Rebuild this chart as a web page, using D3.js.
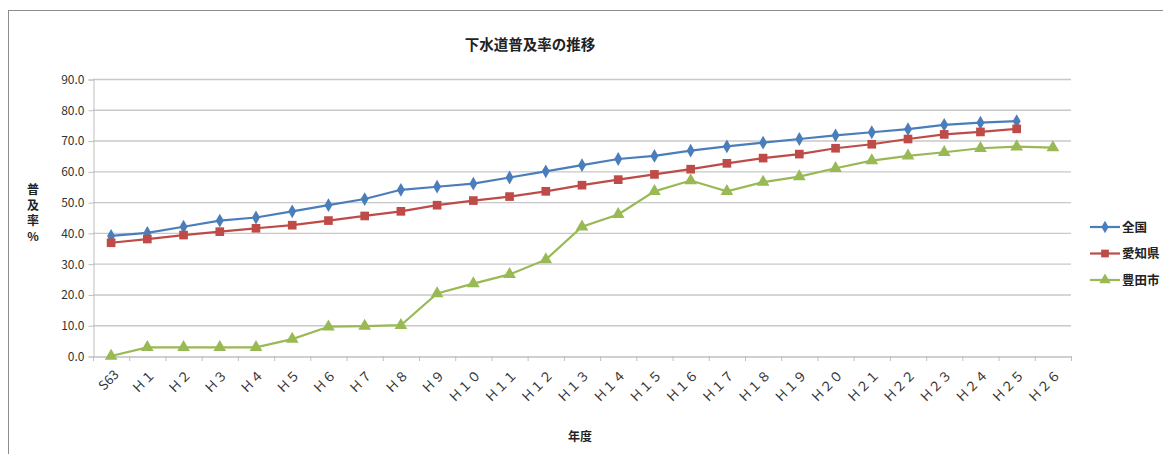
<!DOCTYPE html>
<html><head><meta charset="utf-8">
<script src="https://cdn.jsdelivr.net/npm/d3@7"></script>
<style>body{margin:0;background:#fff}svg{display:block}</style>
</head><body>
<script>
const categories = ["S63","Ｈ１","Ｈ２","Ｈ３","Ｈ４","Ｈ５","Ｈ６","Ｈ７","Ｈ８","Ｈ９","Ｈ１０","Ｈ１１","Ｈ１２","Ｈ１３","Ｈ１４","Ｈ１５","Ｈ１６","Ｈ１７","Ｈ１８","Ｈ１９","Ｈ２０","Ｈ２１","Ｈ２２","Ｈ２３","Ｈ２４","Ｈ２５","Ｈ２６"];
const zenkoku = [39.0,40.0,42.0,44.0,45.0,47.0,49.0,51.0,54.0,55.0,56.0,58.0,60.0,62.0,64.0,65.0,66.7,68.1,69.3,70.5,71.7,72.7,73.7,75.1,75.8,76.3,null];
const aichi = [36.8,38.0,39.3,40.4,41.5,42.5,44.0,45.5,47.0,49.0,50.5,51.8,53.5,55.5,57.3,59.0,60.7,62.6,64.3,65.6,67.5,68.8,70.5,72.0,72.8,73.8,null];
const toyota = [0.0,2.8,2.8,2.8,2.8,5.5,9.5,9.7,10.0,20.3,23.5,26.5,31.3,42.0,46.0,53.5,57.0,53.5,56.5,58.3,61.0,63.5,65.0,66.2,67.5,68.0,67.7];
const seriesNames = ["全国","愛知県","豊田市"];
const yTicks = [0,10,20,30,40,50,60,70,80,90];

const W = 1163, H = 454;
const font = "'Noto Sans CJK JP','Noto Sans',sans-serif";
const svg = d3.select("body").append("svg").attr("width", W).attr("height", H);
svg.append("rect").attr("x",8.5).attr("y",10.5).attr("width",1170).attr("height",470)
  .attr("fill","none").attr("stroke","#8c8c8c").attr("stroke-width",1);

const L = 93, R = 1071, T = 79, B = 356;
const x = d3.scaleBand().domain(categories).range([L, R]);
const y = d3.scaleLinear().domain([0, 90]).range([B, T]);

// gridlines
svg.append("g").selectAll("line").data(yTicks.filter(d=>d>0)).join("line")
  .attr("x1", L).attr("x2", R).attr("y1", d=>y(d)+0.5).attr("y2", d=>y(d)+0.5)
  .attr("stroke","#c8c8c8").attr("stroke-width",1.4);

// y axis
const ya = svg.append("g").attr("transform",`translate(${L+0.5},0.5)`)
  .call(d3.axisLeft(y).tickValues(yTicks).tickFormat(d3.format(".1f")).tickSize(5).tickPadding(4));
ya.select(".domain").attr("stroke","#bfbfbf");
ya.selectAll(".tick line").attr("stroke","#bfbfbf");
ya.selectAll("text").attr("font-family",font).attr("font-size",12).attr("fill","#333");

// x axis
const xa = svg.append("g").attr("transform",`translate(0.5,${B+0.5})`)
  .call(d3.axisBottom(x).tickSize(0).tickPadding(0));
xa.select(".domain").attr("stroke","#bfbfbf").attr("stroke-width",1.3);
xa.selectAll(".tick text").attr("font-family",font).attr("font-size",13).attr("fill","#333")
  .attr("text-anchor","end").attr("dy",0).attr("y",0)
  .attr("transform","translate(8,19) rotate(-45)");
svg.append("g").selectAll("line").data(categories.concat(["_end"])).join("line")
  .attr("x1",(d,i)=>L + i*x.bandwidth()+0.5).attr("x2",(d,i)=>L + i*x.bandwidth()+0.5)
  .attr("y1",B).attr("y2",B+5).attr("stroke","#bfbfbf");

const cx = d => x(d) + x.bandwidth()/2;
const colors = ["#4a7ebb","#be4b48","#98b954"];
const datas = [zenkoku, aichi, toyota];
const line = d3.line().defined(d=>d.v!=null).x(d=>cx(d.c)).y(d=>y(d.v));
const symbols = [d3.symbolDiamond, d3.symbolSquare, d3.symbolTriangle];
const sizes = [55, 75, 70];

datas.forEach((arr, si) => {
  const pts = arr.map((v,i)=>({c:categories[i], v}));
  svg.append("path").datum(pts).attr("d", line).attr("fill","none")
    .attr("stroke", colors[si]).attr("stroke-width", 2.2);
  svg.append("g").selectAll("path").data(pts.filter(d=>d.v!=null)).join("path")
    .attr("transform", d=>`translate(${cx(d.c)},${y(d.v)})`)
    .attr("d", d3.symbol().type(symbols[si]).size(sizes[si]))
    .attr("fill", colors[si]);
});

// title
svg.append("text").attr("x",530).attr("y",50).attr("text-anchor","middle")
  .attr("font-family",font).attr("font-size",14.5).attr("font-weight","bold").attr("fill","#222")
  .text("下水道普及率の推移");

// y label
const ylab = ["普","及","率","%"];
svg.append("g").selectAll("text").data(ylab).join("text")
  .attr("x",33).attr("y",(d,i)=>194+i*15.5).attr("text-anchor","middle")
  .attr("font-family",font).attr("font-size",12).attr("font-weight","bold").attr("fill","#222")
  .text(d=>d);

// x label
svg.append("text").attr("x",580).attr("y",441).attr("text-anchor","middle")
  .attr("font-family",font).attr("font-size",12).attr("font-weight","bold").attr("fill","#222")
  .text("年度");

// legend
const lg = svg.append("g").selectAll("g").data(seriesNames).join("g")
  .attr("transform",(d,i)=>`translate(1090,${227+i*26.5})`);
lg.append("line").attr("x1",0).attr("x2",30).attr("y1",0).attr("y2",0)
  .attr("stroke",(d,i)=>colors[i]).attr("stroke-width",2.2);
lg.append("path").attr("transform","translate(15,0)")
  .attr("d",(d,i)=>d3.symbol().type(symbols[i]).size(sizes[i]*0.8)())
  .attr("fill",(d,i)=>colors[i]);
lg.append("text").attr("x",32).attr("y",4.5).attr("font-family",font).attr("font-size",12.5)
  .attr("font-weight","bold").attr("fill","#222").text(d=>d);
</script>
</body></html>
